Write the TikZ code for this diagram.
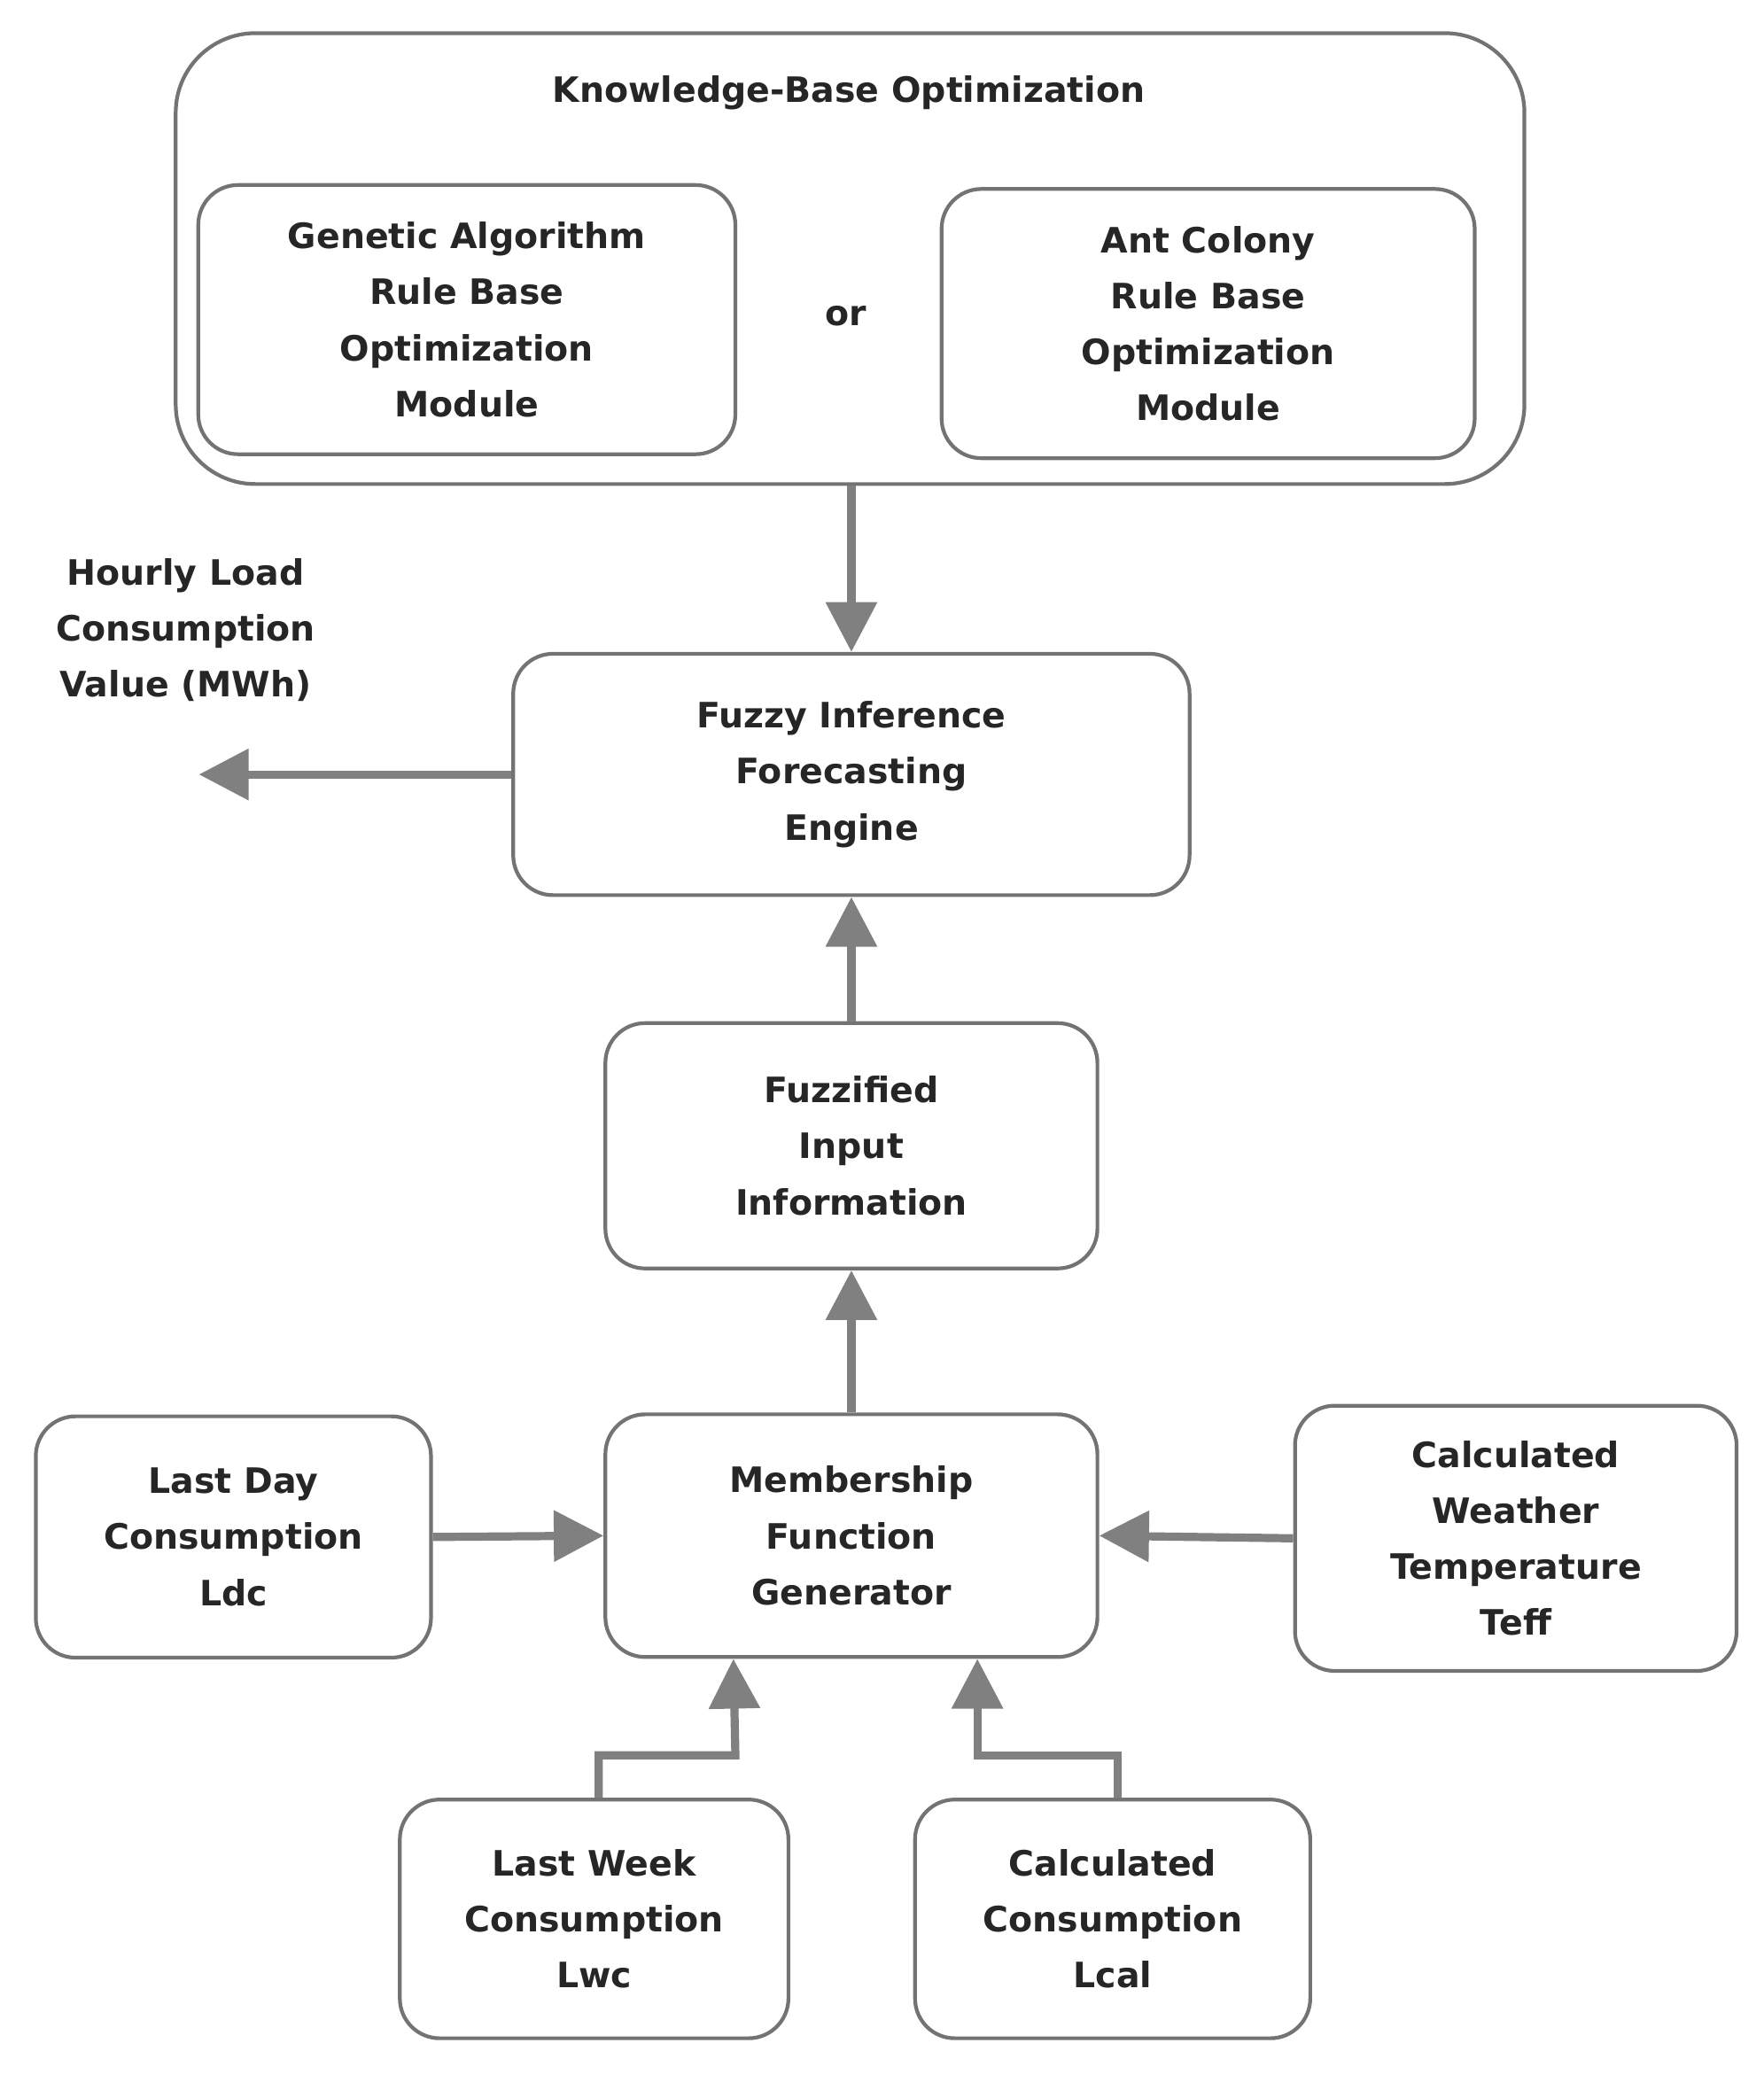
\documentclass[tikz,border=0pt]{standalone}
\usepackage{fontspec}
\setmainfont{DejaVu Sans}
\usetikzlibrary{arrows.meta}
\begin{document}
\begin{tikzpicture}[x=0.02cm,y=-0.02cm,
 box/.style={draw=black!55,line width=1.6pt,rounded corners=0.6cm,align=center,
   font=\bfseries\fontsize{15}{24}\selectfont,text=black!85,inner sep=0pt},
 txt/.style={align=center,font=\bfseries\fontsize{15}{24}\selectfont,text=black!85},
 arr/.style={draw=black!50,line width=3.5pt,-{Triangle[length=0.75cm,width=0.75cm]}}]
\useasboundingbox (0,0) rectangle (1330,1570);
\node[box,minimum width=1017*0.02cm,minimum height=340*0.02cm,rounded corners=1.2cm] (kb) at (641,195) {};
\node[txt] (kbt) at (640,70) {Knowledge-Base Optimization};
\node[box,minimum width=405*0.02cm,minimum height=203*0.02cm] (ga) at (352,241) {Genetic Algorithm\\Rule Base\\Optimization\\Module};
\node[txt] (or) at (638,238) {or};
\node[box,minimum width=402*0.02cm,minimum height=203*0.02cm] (ac) at (911,244) {Ant Colony\\Rule Base\\Optimization\\Module};
\node[box,minimum width=510*0.02cm,minimum height=182*0.02cm] (fie) at (642,584) {Fuzzy Inference\\Forecasting\\Engine};
\node[txt] (hl) at (140,475) {Hourly Load\\Consumption\\Value (MWh)};
\coordinate (out) at (150,584);
\node[box,minimum width=371*0.02cm,minimum height=185*0.02cm] (ffi) at (642,864) {Fuzzified\\Input\\Information};
\node[box,minimum width=371*0.02cm,minimum height=183*0.02cm] (mfg) at (642,1158) {Membership\\Function\\Generator};
\node[box,minimum width=298*0.02cm,minimum height=182*0.02cm] (ld) at (176,1159) {Last Day\\Consumption\\Ldc};
\node[box,minimum width=333*0.02cm,minimum height=200*0.02cm] (cw) at (1143,1160) {Calculated\\Weather\\Temperature\\Teff};
\node[box,minimum width=293*0.02cm,minimum height=180*0.02cm] (lw) at (448,1447) {Last Week\\Consumption\\Lwc};
\node[box,minimum width=298*0.02cm,minimum height=180*0.02cm] (cc) at (839,1447) {Calculated\\Consumption\\Lcal};
\draw[arr] (kb.south -| fie.north) -- (fie.north);
\draw[arr] (fie.west) -- (out);
\draw[arr] (ffi.north) -- (fie.south);
\draw[arr] (mfg.north) -- (ffi.south);
\draw[arr] (ld.east) -- (mfg.west);
\draw[arr] (cw.west) -- (mfg.east);
\draw[arr] ([xshift=2pt]lw.north) |- ++(103,-32) -- ([xshift=-89*0.02cm]mfg.south);
\draw[arr] ([xshift=4*0.02cm]cc.north) |- ++(-106,-32) -- ([xshift=95*0.02cm]mfg.south);
\end{tikzpicture}
\end{document}
